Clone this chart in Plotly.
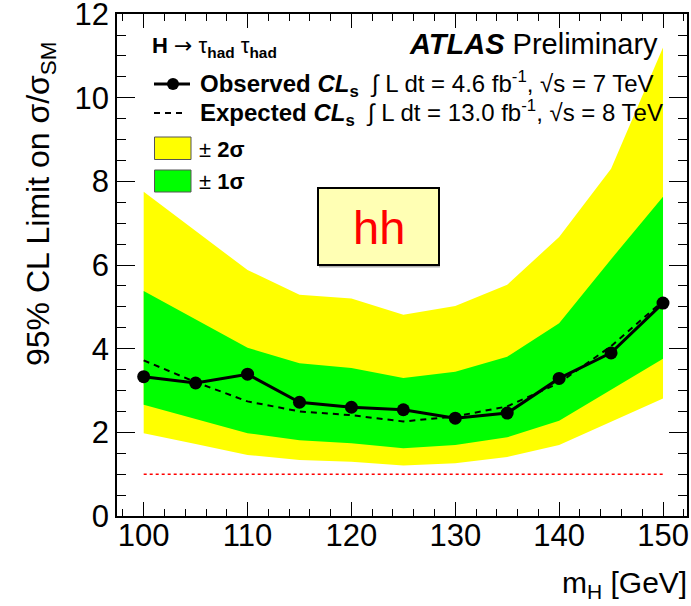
import plotly.graph_objects as go

# Higgs mass points [GeV]
masses = [100, 105, 110, 115, 120, 125, 130, 135, 140, 145, 150]

# 95% CL upper limits on sigma/sigma_SM
observed = [3.33, 3.18, 3.39, 2.72, 2.60, 2.54, 2.34, 2.46, 3.29, 3.90, 5.09]
expected = [3.72, 3.20, 2.74, 2.50, 2.41, 2.26, 2.38, 2.62, 3.18, 4.06, 5.14]

# expected-limit uncertainty bands
band1_lo = [2.66, 2.32, 1.98, 1.81, 1.74, 1.62, 1.70, 1.88, 2.28, 3.02, 3.76]
band1_hi = [5.38, 4.70, 4.02, 3.65, 3.54, 3.30, 3.45, 3.81, 4.61, 6.14, 7.63]
band2_lo = [1.98, 1.72, 1.46, 1.34, 1.30, 1.21, 1.26, 1.41, 1.70, 2.26, 2.81]
band2_hi = [7.75, 6.82, 5.88, 5.29, 5.20, 4.81, 5.02, 5.53, 6.67, 8.30, 11.20]

# Standard Model reference level
sm_level = [1.0] * len(masses)

x_ticks = [100, 110, 120, 130, 140, 150]
y_ticks = [0, 2, 4, 6, 8, 10, 12]

FONT = "Liberation Sans, Arial, Helvetica, sans-serif"
W, H = 691, 606
L_M, R_M, T_M, B_M = 117, 4, 14, 90
PW, PH = W - L_M - R_M, H - T_M - B_M


def px(xp):
    return (xp - L_M) / PW


def py(yp):
    return (H - B_M - yp) / PH


fig = go.Figure()

# +-2 sigma band
fig.add_trace(go.Scatter(
    x=masses + masses[::-1], y=band2_hi + band2_lo[::-1],
    fill="toself", fillcolor="#ffff00", line=dict(width=0),
    mode="lines", hoverinfo="skip", showlegend=False))
# +-1 sigma band
fig.add_trace(go.Scatter(
    x=masses + masses[::-1], y=band1_hi + band1_lo[::-1],
    fill="toself", fillcolor="#00ff00", line=dict(width=0),
    mode="lines", hoverinfo="skip", showlegend=False))
# SM line
fig.add_trace(go.Scatter(
    x=masses, y=sm_level, mode="lines",
    line=dict(color="red", width=1.5, dash="dot"), showlegend=False))
# expected limit
fig.add_trace(go.Scatter(
    x=masses, y=expected, mode="lines",
    line=dict(color="black", width=2, dash="6px,5px"), showlegend=False))
# observed limit
fig.add_trace(go.Scatter(
    x=masses, y=observed, mode="lines+markers",
    line=dict(color="black", width=3),
    marker=dict(color="black", size=13), showlegend=False))

axis_common = dict(
    showline=True, linecolor="black", linewidth=1.5, mirror="allticks",
    ticks="inside", tickcolor="black", tickwidth=1,
    showgrid=False, zeroline=False, ticklabeloverflow="allow",
    automargin=False,
    tickfont=dict(family=FONT, size=31, color="black"),
)

fig.update_xaxes(
    range=[97.43, 152.31], tickvals=x_ticks, ticklen=14,
    ticklabelstandoff=-9,
    minor=dict(dtick=2, ticklen=7, ticks="inside", tickcolor="black", showgrid=False),
    **axis_common)
fig.update_yaxes(
    range=[0, 12.002], tickvals=y_ticks, ticklen=18,
    minor=dict(dtick=0.5, ticklen=9, ticks="inside", tickcolor="black", showgrid=False),
    **axis_common)

shapes = []
annotations = []

# legend: observed sample
shapes.append(dict(type="line", xref="paper", yref="paper",
                   x0=px(154), x1=px(190), y0=py(84), y1=py(84),
                   line=dict(color="black", width=3)))
shapes.append(dict(type="circle", xref="paper", yref="paper",
                   x0=px(167), x1=px(179), y0=py(90), y1=py(78),
                   fillcolor="black", line=dict(color="black", width=0)))
# legend: expected sample
shapes.append(dict(type="line", xref="paper", yref="paper",
                   x0=px(154), x1=px(187), y0=py(113), y1=py(113),
                   line=dict(color="black", width=2, dash="6px,5px")))
# legend: band boxes
shapes.append(dict(type="rect", xref="paper", yref="paper",
                   x0=px(154.5), x1=px(191), y0=py(159.5), y1=py(137),
                   fillcolor="#ffff00", line=dict(color="#555555", width=1)))
shapes.append(dict(type="rect", xref="paper", yref="paper",
                   x0=px(154.5), x1=px(191), y0=py(192), y1=py(170),
                   fillcolor="#00ff00", line=dict(color="#555555", width=1)))

# channel label box with a thin shadow
shapes.append(dict(type="rect", xref="paper", yref="paper",
                   x0=px(319), x1=px(440), y0=py(267.5), y1=py(190),
                   fillcolor="#b0b0b0", line=dict(width=0)))
shapes.append(dict(type="rect", xref="paper", yref="paper",
                   x0=px(318), x1=px(439), y0=py(265), y1=py(188),
                   fillcolor="#ffffb4", line=dict(color="black", width=2)))

annotations.append(dict(xref="paper", yref="paper", x=px(378.5), y=py(228),
                        xanchor="center", yanchor="middle", showarrow=False,
                        text="hh", font=dict(family=FONT, size=47, color="red")))

legend_font = dict(family=FONT, size=22, color="black")
line_font = dict(family=FONT, size=24, color="black")
annotations.append(dict(xref="paper", yref="paper", x=px(150), y=py(47),
                        xanchor="left", yanchor="middle", showarrow=False,
                        text="<b>H</b> <span style=\"font-family:DejaVu Sans\">→</span> "
                             "τ<sub><b>had</b></sub> τ<sub><b>had</b></sub>",
                        font=legend_font))
annotations.append(dict(xref="paper", yref="paper", x=px(660), y=py(44),
                        xanchor="right", yanchor="middle", showarrow=False,
                        text="<b><i>ATLAS</i></b> Preliminary",
                        font=dict(family=FONT, size=29, color="black")))
annotations.append(dict(xref="paper", yref="paper", x=px(198), y=py(84),
                        xanchor="left", yanchor="middle", showarrow=False,
                        text="<b>Observed <i>CL</i></b><sub><b>s</b></sub>  ∫ L dt = 4.6 fb<sup>-1</sup>, √s = 7 TeV",
                        font=line_font))
annotations.append(dict(xref="paper", yref="paper", x=px(198), y=py(113),
                        xanchor="left", yanchor="middle", showarrow=False,
                        text="<b>Expected <i>CL</i></b><sub><b>s</b></sub>  ∫ L dt = 13.0 fb<sup>-1</sup>, √s = 8 TeV",
                        font=line_font))
annotations.append(dict(xref="paper", yref="paper", x=px(197), y=py(149),
                        xanchor="left", yanchor="middle", showarrow=False,
                        text="± <b>2σ</b>", font=legend_font))
annotations.append(dict(xref="paper", yref="paper", x=px(197), y=py(181),
                        xanchor="left", yanchor="middle", showarrow=False,
                        text="± <b>1σ</b>", font=legend_font))

# axis titles
annotations.append(dict(xref="paper", yref="paper", x=px(40), y=py(204),
                        xanchor="center", yanchor="middle", showarrow=False,
                        textangle=-90,
                        text="95% CL Limit on σ/σ<sub>SM</sub>",
                        font=dict(family=FONT, size=32, color="black")))
annotations.append(dict(xref="paper", yref="paper", x=px(689), y=py(585),
                        xanchor="right", yanchor="middle", showarrow=False,
                        text="m<sub>H</sub> [GeV]",
                        font=dict(family=FONT, size=30, color="black")))

fig.update_layout(
    width=W, height=H,
    margin=dict(l=L_M, r=R_M, t=T_M, b=B_M, autoexpand=False),
    paper_bgcolor="white", plot_bgcolor="white",
    shapes=shapes, annotations=annotations,
    showlegend=False,
)

fig.write_html("out.html")
